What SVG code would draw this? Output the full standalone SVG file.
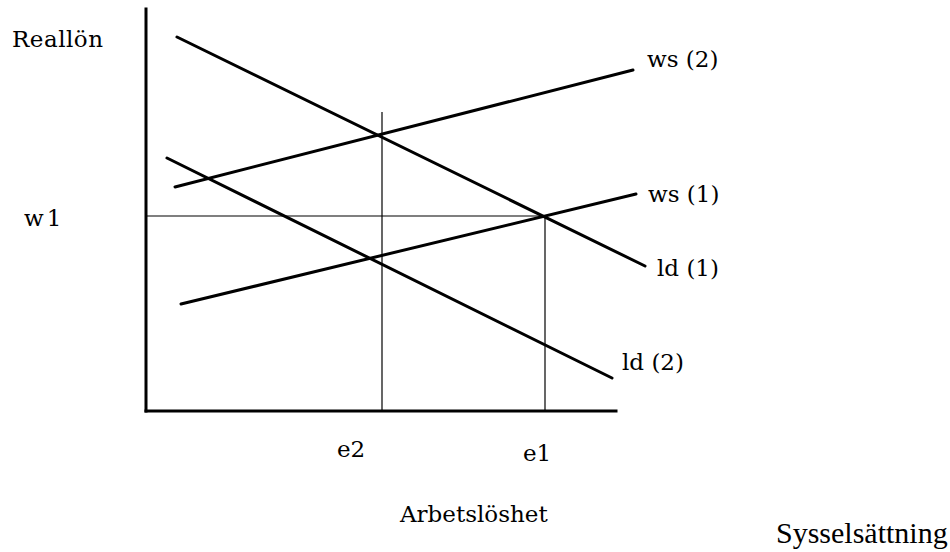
<svg xmlns="http://www.w3.org/2000/svg" width="950" height="552" viewBox="0 0 950 552">
<style>
.axis{stroke:#000;stroke-width:3;fill:none;stroke-linecap:square}
.curve{stroke:#000;stroke-width:3;fill:none;stroke-linecap:round}
.guide{stroke:#000;stroke-width:1.2;fill:none}
.lbl{font-family:"DejaVu Serif","Liberation Serif",serif;font-size:23px;fill:#000}
.big{font-family:"Liberation Serif","Times New Roman",serif;font-size:30px;fill:#000}
</style>
<rect width="950" height="552" fill="#fff"/>
<g id="axes">
<line class="axis" x1="146" y1="9" x2="146" y2="411"/>
<line class="axis" x1="146" y1="411" x2="616" y2="411"/>
</g>
<g id="guides">
<line class="guide" x1="146" y1="216" x2="545" y2="216"/>
<line class="guide" x1="382" y1="112" x2="382" y2="411"/>
<line class="guide" x1="545" y1="216" x2="545" y2="411"/>
</g>
<g id="connectors">
<line id="ld1" class="curve" x1="177" y1="37" x2="645" y2="266"/>
<line id="ld2" class="curve" x1="167" y1="158" x2="612" y2="378"/>
<line id="ws2" class="curve" x1="175" y1="187" x2="633" y2="70"/>
<line id="ws1" class="curve" x1="181" y1="304" x2="636" y2="194"/>
</g>
<g id="labels">
<text class="lbl" x="12" y="47" letter-spacing="0.5">Reallön</text>
<text class="lbl" x="24" y="226" letter-spacing="3">w1</text>
<text class="lbl" x="647" y="67">ws (2)</text>
<text class="lbl" x="648" y="202">ws (1)</text>
<text class="lbl" x="657" y="276">ld (1)</text>
<text class="lbl" x="622" y="370">ld (2)</text>
<text class="lbl" x="337" y="457">e2</text>
<text class="lbl" x="523" y="461">e1</text>
<text class="lbl" x="400" y="522">Arbetslöshet</text>
<text class="big" x="776" y="543">Sysselsättning</text>
</g>
</svg>
